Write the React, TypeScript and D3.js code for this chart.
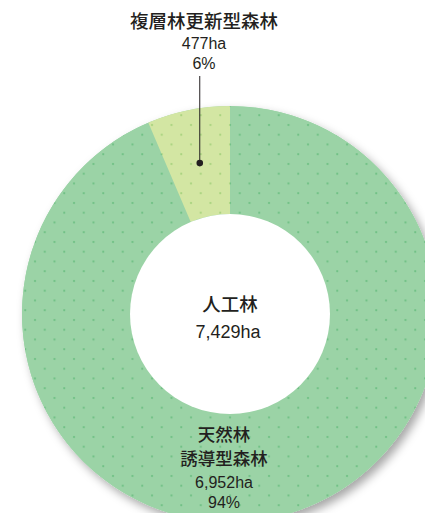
import React from "react";
import * as d3 from "d3";

const categories = ["人工林", "複層林更新型森林", "天然林誘導型森林"];
const areas = [7429, 477, 6952];
const pieNames = ["天然林誘導型森林", "複層林更新型森林"];
const pieValues = [6952, 477];
const pieColors = ["#9bd3a6", "#d3e6a3"];

const W = 425, H = 513;
const cx = 230, cy = 314, R = 208, r = 100;

export default function App() {
  const pie = d3.pie<number>().sort(null).startAngle(0).endAngle(2 * Math.PI)(pieValues);
  const arc = d3.arc<d3.PieArcDatum<number>>().innerRadius(r).outerRadius(R);
  const fmt = d3.format(",");
  const total = d3.sum(pieValues);
  const small = pie[1];
  const midA = (small.startAngle + small.endAngle) / 2;
  const dotR = (R + r) / 2;
  const dotX = cx + Math.sin(midA) * dotR * 0.98;
  const dotY = cy - Math.cos(midA) * dotR;
  const jp = "'Noto Sans CJK JP', sans-serif";
  const num = "'Liberation Sans', Arial, sans-serif";
  const col = "#231f20";
  return (
    <svg width={W} height={H} style={{ position: "absolute", left: 0, top: 0 }}>
      <defs>
        <filter id="sh" x="-20%" y="-20%" width="140%" height="140%">
          <feDropShadow dx="4" dy="5" stdDeviation="5" floodColor="#000" floodOpacity="0.35" />
        </filter>
        <pattern id="dots0" width="19.5" height="19.5" patternUnits="userSpaceOnUse" x={cx} y={cy}>
          <rect width="19.5" height="19.5" fill={pieColors[0]} />
          <circle cx="4" cy="4" r="1.1" fill="#6cbf82" />
          <circle cx="13.75" cy="13.75" r="1.1" fill="#6cbf82" />
        </pattern>
        <pattern id="dots1" width="19.5" height="19.5" patternUnits="userSpaceOnUse" x={cx} y={cy}>
          <rect width="19.5" height="19.5" fill={pieColors[1]} />
          <circle cx="4" cy="4" r="1.1" fill="#a6d27c" />
          <circle cx="13.75" cy="13.75" r="1.1" fill="#a6d27c" />
        </pattern>
      </defs>
      <g filter="url(#sh)">
        <circle cx={cx} cy={cy} r={R} fill={pieColors[0]} />
      </g>
      <g transform={`translate(${cx},${cy})`}>
        {pie.map((d, i) => (
          <path key={i} d={arc(d) || ""} fill={`url(#dots${i})`} />
        ))}
        <circle r={r} fill="#fff" />
      </g>
      <line x1={dotX} x2={dotX} y1={76} y2={dotY} stroke={col} strokeWidth={1} />
      <circle cx={dotX} cy={dotY} r={3.3} fill={col} />
      <g fill={col} textAnchor="middle">
        <text x={204} y={28} fontFamily={jp} fontSize={18.5} fontWeight={500}>{categories[1]}</text>
        <text x={204} y={49} fontFamily={num} fontSize={16}>{fmt(areas[1])}ha</text>
        <text x={204} y={69} fontFamily={num} fontSize={16}>{Math.round((pieValues[1] / total) * 100)}%</text>

        <text x={230} y={311} fontFamily={jp} fontSize={18.5} fontWeight={500}>{categories[0]}</text>
        <text x={228} y={338} fontFamily={num} fontSize={18}>{fmt(areas[0])}ha</text>

        <text x={224} y={441} fontFamily={jp} fontSize={17.5} fontWeight={500}>天然林</text>
        <text x={224} y={465} fontFamily={jp} fontSize={17.5} fontWeight={500}>誘導型森林</text>
        <text x={224} y={488} fontFamily={num} fontSize={16}>{fmt(areas[2])}ha</text>
        <text x={224} y={508} fontFamily={num} fontSize={16}>{Math.round((pieValues[0] / total) * 100)}%</text>
      </g>
    </svg>
  );
}
